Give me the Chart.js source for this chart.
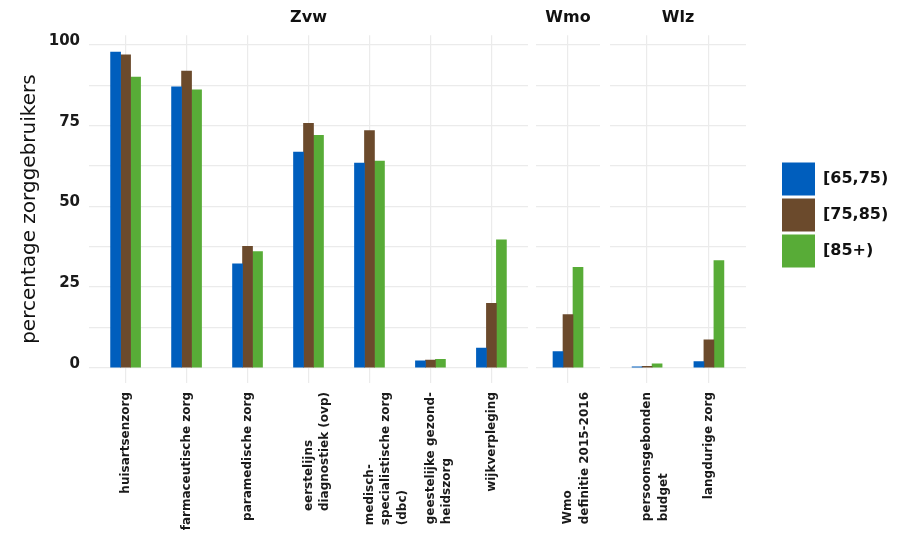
<!DOCTYPE html>
<html>
<head>
<meta charset="utf-8">
<script src="https://cdn.jsdelivr.net/npm/chart.js@4/dist/chart.umd.min.js"></script>
<style>
html,body{margin:0;padding:0;background:#fff;width:904px;height:549px;overflow:hidden;position:relative}
canvas{position:absolute}
</style>
</head>
<body>
<canvas id="c1" width="528" height="549" style="left:0;top:0"></canvas>
<canvas id="c2" width="64" height="549" style="left:536px;top:0"></canvas>
<canvas id="c3" width="136" height="549" style="left:610px;top:0"></canvas>
<canvas id="c4" width="250" height="130" style="left:779px;top:150px"></canvas>
<script>
// ---- data ----
const panelNames = ['Zvw', 'Wmo', 'Wlz'];
const panelOf = [0, 0, 0, 0, 0, 0, 0, 1, 2, 2];
const categories = [
  ['huisartsenzorg'],
  ['farmaceutische zorg'],
  ['paramedische zorg'],
  ['eerstelijns', 'diagnostiek (ovp)'],
  ['medisch-', 'specialistische zorg', '(dbc)'],
  ['geestelijke gezond-', 'heidszorg'],
  ['wijkverpleging'],
  ['Wmo', 'definitie 2015-2016'],
  ['persoonsgebonden', 'budget'],
  ['langdurige zorg']
];
const seriesNames = ['[65,75)', '[75,85)', '[85+)'];
const age65_75 = [97.8, 87.0, 32.2, 66.8, 63.4, 2.2, 6.1, 5.0, 0.3, 1.9];
const age75_85 = [96.9, 91.9, 37.6, 75.7, 73.5, 2.4, 20.0, 16.5, 0.5, 8.7];
const age85plus = [90.0, 86.1, 36.0, 72.0, 64.0, 2.6, 39.6, 31.1, 1.2, 33.2];
const yGridValues = [0, 12.5, 25, 37.5, 50, 62.5, 75, 87.5, 100];
const yTickLabels = {0: '0', 25: '25', 50: '50', 75: '75', 100: '100'};

// ---- styles ----
const colors = ['#005EBD', '#6B4A2C', '#58AC37'];
const gridColor = '#EBEBEB';
const textColor = '#1a1a1a';
const FONT = "'DejaVu Sans', sans-serif";
const allSeries = [age65_75, age75_85, age85plus];

// x-axis category labels: rotated 90deg, block top-aligned under the axis,
// lines left-justified (ggplot style)
const rotatedCategoryLabels = {
  id: 'rotatedCategoryLabels',
  afterDraw(chart, args, opts) {
    const s = chart.scales.x;
    const ctx = chart.ctx;
    const lh = opts.lineHeight;
    ctx.save();
    ctx.font = opts.font;
    ctx.fillStyle = opts.color;
    ctx.textAlign = 'left';
    ctx.textBaseline = 'middle';
    opts.labels.forEach((lines, k) => {
      const px = s.getPixelForValue(k);
      const maxW = Math.max(...lines.map(l => ctx.measureText(l).width));
      const yBottom = s.top + opts.padding + maxW;
      lines.forEach((line, j) => {
        ctx.save();
        ctx.translate(px + j * lh, yBottom);
        ctx.rotate(-Math.PI / 2);
        ctx.fillText(line, 0, 0);
        ctx.restore();
      });
    });
    ctx.restore();
  }
};

function makePanel(canvasId, p, showY) {
  const idx = [];
  panelOf.forEach((v, i) => { if (v === p) idx.push(i); });
  const n = idx.length;
  const datasets = allSeries.map((vals, s) => ({
    label: seriesNames[s],
    data: idx.map((i, k) => ({x: k, y: vals[i]})),
    backgroundColor: colors[s],
    borderColor: colors[s],
    borderWidth: 0,
    barThickness: 10
  }));
  return new Chart(document.getElementById(canvasId), {
    type: 'bar',
    data: {datasets},
    plugins: [rotatedCategoryLabels],
    options: {
      responsive: false,
      animation: false,
      layout: {padding: 0},
      plugins: {
        legend: {display: false},
        tooltip: {enabled: false},
        title: {
          display: true,
          text: panelNames[p],
          fullSize: false,
          color: '#111',
          font: {family: FONT, size: 16, weight: 'bold'},
          padding: {top: 8, bottom: 8}
        },
        rotatedCategoryLabels: {
          labels: idx.map(i => categories[i]),
          font: "bold 12px 'DejaVu Sans', sans-serif",
          color: textColor,
          lineHeight: 16.5,
          padding: 9
        }
      },
      scales: {
        x: {
          type: 'linear',
          offset: false,
          bounds: 'data',
          min: -0.6,
          max: n - 1 + 0.6,
          afterBuildTicks: (s) => { s.ticks = idx.map((_, k) => ({value: k})); },
          afterFit: (s) => { s.height = 166; s.paddingLeft = 0; s.paddingRight = 0; },
          grid: {color: gridColor, lineWidth: 1.2, drawTicks: false, offset: false},
          border: {display: false},
          ticks: {display: false}
        },
        y: {
          min: -4.7,
          max: 103,
          afterBuildTicks: (s) => { s.ticks = yGridValues.map(v => ({value: v})); },
          afterFit: (s) => { s.width = showY ? 89 : 0; },
          grid: {color: gridColor, lineWidth: 1.2, drawTicks: false},
          border: {display: false},
          ticks: {
            display: showY,
            padding: 9,
            labelOffset: -4,
            color: textColor,
            font: {family: FONT, size: 15, weight: 'bold'},
            callback: (v) => (yTickLabels[v] !== undefined ? yTickLabels[v] : '')
          },
          title: {
            display: showY,
            text: 'percentage zorggebruikers',
            color: '#111',
            font: {family: FONT, size: 20, weight: 'normal'},
            padding: {top: 18, bottom: 0}
          }
        }
      }
    }
  });
}

makePanel('c1', 0, true);
makePanel('c2', 1, false);
makePanel('c3', 2, false);

// legend
new Chart(document.getElementById('c4'), {
  type: 'bar',
  data: {
    labels: [],
    datasets: seriesNames.map((name, s) => ({
      label: name, data: [], backgroundColor: colors[s], borderColor: colors[s], borderWidth: 0
    }))
  },
  options: {
    responsive: false,
    animation: false,
    layout: {padding: 0},
    scales: {x: {display: false}, y: {display: false}},
    plugins: {
      tooltip: {enabled: false},
      legend: {
        position: 'left',
        align: 'center',
        onClick: null,
        labels: {
          boxWidth: 33,
          boxHeight: 33,
          padding: 3,
          color: '#111',
          font: {family: FONT, size: 16, weight: 'bold'}
        }
      }
    }
  }
});
</script>
</body>
</html>
